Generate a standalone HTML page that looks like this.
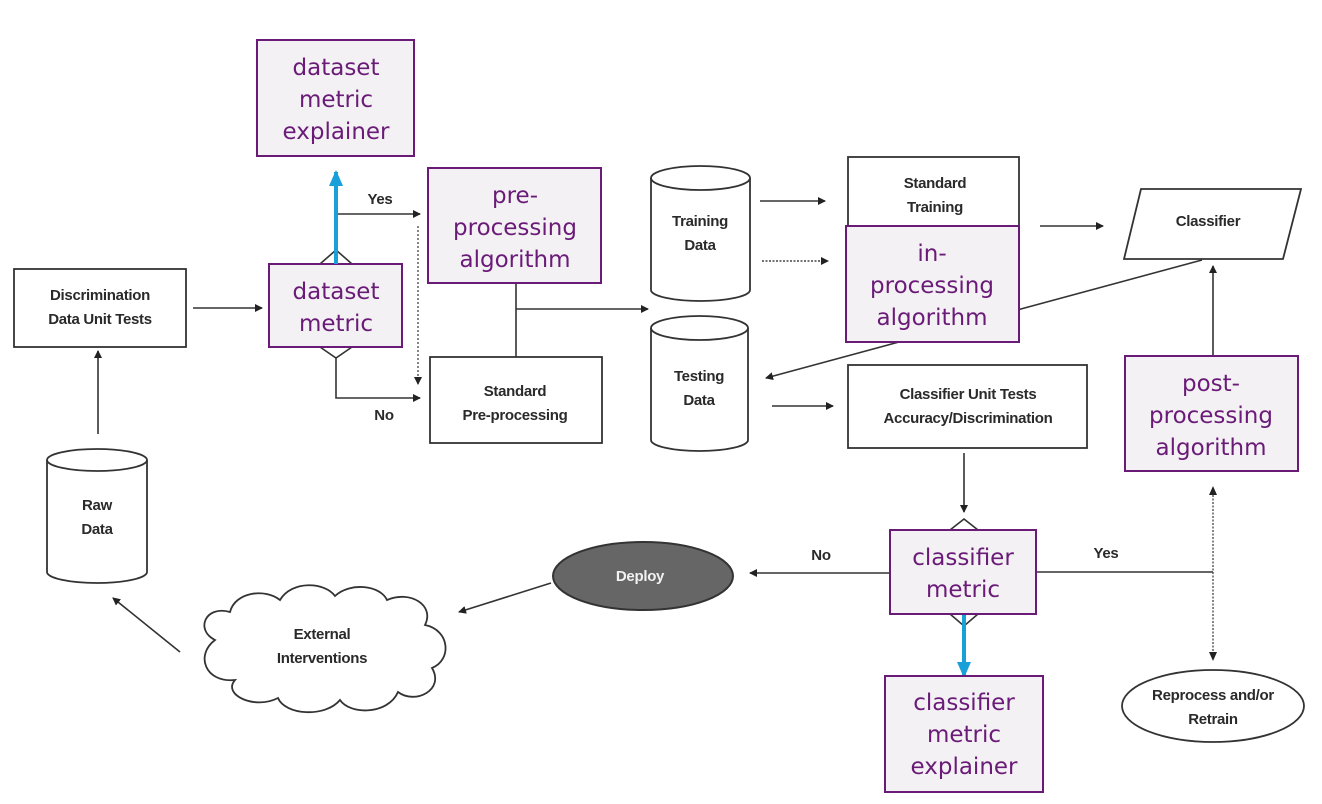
<!DOCTYPE html>
<html><head><meta charset="utf-8"><style>
html,body{margin:0;padding:0;background:#fff;}
svg{display:block;}
.b{font-family:"Liberation Sans",sans-serif;font-size:15px;font-weight:bold;letter-spacing:-0.3px;fill:#2a2a2a;text-anchor:middle;}
.p{font-family:"DejaVu Sans","Liberation Sans",sans-serif;font-size:23px;fill:#6a1b78;text-anchor:middle;}
.pb{fill:#f3f1f3;stroke:#6a1b78;stroke-width:2;}
.s{fill:#fff;stroke:#333;stroke-width:1.8;}
.l{stroke:#333;stroke-width:1.6;fill:none;}
</style></head><body>
<svg width="1322" height="804" viewBox="0 0 1322 804" xmlns="http://www.w3.org/2000/svg">
<defs>
<marker id="a" markerWidth="8" markerHeight="8" refX="7" refY="4" orient="auto" markerUnits="userSpaceOnUse"><path d="M0,0 L8,4 L0,8 z" fill="#222"/></marker>
<marker id="ba" markerWidth="16" markerHeight="14" refX="14" refY="7" orient="auto" markerUnits="userSpaceOnUse"><path d="M0,0 L16,7 L0,14 z" fill="#1aa0d8"/></marker>
</defs>
<rect width="1322" height="804" fill="#fff"/>

<rect class="s" x="14" y="269" width="172" height="78"/>
<text class="b" x="100" y="300">Discrimination</text>
<text class="b" x="100" y="324">Data Unit Tests</text>
<line class="l" x1="193" y1="308" x2="262" y2="308" marker-end="url(#a)"/>

<path class="s" d="M47,460 L47,572 A50,11 0 0 0 147,572 L147,460"/>
<ellipse class="s" cx="97" cy="460" rx="50" ry="11"/>
<text class="b" x="97" y="510">Raw</text>
<text class="b" x="97" y="534">Data</text>
<line class="l" x1="98" y1="434" x2="98" y2="351" marker-end="url(#a)"/>

<path class="l" d="M320,264 L336,250 L352,264"/>
<path class="l" d="M320,347 L336,358 L352,347"/>
<line class="l" x1="336" y1="214" x2="420" y2="214" marker-end="url(#a)"/>
<path class="l" d="M336,358 L336,398 L420,398" marker-end="url(#a)"/>
<line x1="418" y1="226" x2="418" y2="384" stroke="#444" stroke-width="1.3" stroke-dasharray="2,2" marker-end="url(#a)"/>
<text class="b" x="380" y="204">Yes</text>
<text class="b" x="384" y="420">No</text>

<rect class="s" x="430" y="357" width="172" height="86"/>
<text class="b" x="515" y="396">Standard</text>
<text class="b" x="515" y="420">Pre-processing</text>
<line class="l" x1="516" y1="283" x2="516" y2="357"/>
<line class="l" x1="516" y1="309" x2="648" y2="309" marker-end="url(#a)"/>

<path class="s" d="M651,178 L651,290 A49.5,11 0 0 0 750,290 L750,178"/>
<ellipse class="s" cx="700.5" cy="178" rx="49.5" ry="12"/>
<text class="b" x="700" y="226">Training</text>
<text class="b" x="700" y="250">Data</text>
<path class="s" d="M651,328 L651,440 A48.5,11 0 0 0 748,440 L748,328"/>
<ellipse class="s" cx="699.5" cy="328" rx="48.5" ry="12"/>
<text class="b" x="699" y="381">Testing</text>
<text class="b" x="699" y="405">Data</text>

<line class="l" x1="760" y1="201" x2="825" y2="201" marker-end="url(#a)"/>
<line x1="762" y1="261" x2="828" y2="261" stroke="#444" stroke-width="1.4" stroke-dasharray="2,1.5" marker-end="url(#a)"/>

<rect class="s" x="848" y="157" width="171" height="90"/>
<text class="b" x="935" y="188">Standard</text>
<text class="b" x="935" y="212">Training</text>
<line class="l" x1="1040" y1="226" x2="1103" y2="226" marker-end="url(#a)"/>

<polygon class="s" points="1141,189 1301,189 1283,259 1124,259"/>
<text class="b" x="1208" y="226">Classifier</text>
<line class="l" x1="1202" y1="260" x2="766" y2="378" marker-end="url(#a)"/>
<line class="l" x1="1213" y1="355" x2="1213" y2="266" marker-end="url(#a)"/>

<line class="l" x1="772" y1="406" x2="833" y2="406" marker-end="url(#a)"/>
<rect class="s" x="848" y="365" width="239" height="83"/>
<text class="b" x="968" y="399">Classifier Unit Tests</text>
<text class="b" x="968" y="423">Accuracy/Discrimination</text>
<line class="l" x1="964" y1="453" x2="964" y2="512" marker-end="url(#a)"/>
<path class="l" d="M950,530 L964,519 L978,530"/>
<path class="l" d="M950,614 L964,626 L978,614"/>

<line class="l" x1="890" y1="573" x2="750" y2="573" marker-end="url(#a)"/>
<text class="b" x="821" y="560">No</text>
<line class="l" x1="1036" y1="572" x2="1213" y2="572"/>
<text class="b" x="1106" y="558">Yes</text>
<line x1="1213" y1="495" x2="1213" y2="652" stroke="#444" stroke-width="1.3" stroke-dasharray="2,1.5"/>
<path d="M1209,495 L1213,486 L1217,495 z M1209,652 L1213,661 L1217,652 z" fill="#222"/>
<ellipse class="s" cx="1213" cy="706" rx="91" ry="36"/>
<text class="b" x="1213" y="700">Reprocess and/or</text>
<text class="b" x="1213" y="724">Retrain</text>

<ellipse cx="643" cy="576" rx="90" ry="34" fill="#666" stroke="#333" stroke-width="2"/>
<text class="b" x="640" y="581" style="fill:#f2f2f2">Deploy</text>
<line class="l" x1="551" y1="583" x2="459" y2="612" marker-end="url(#a)"/>

<path class="s" d="M215,640 C195,630 205,605 230,612 C235,592 265,588 280,600 C292,580 325,582 335,596 C350,582 380,585 387,600 C410,590 435,605 425,625 C450,630 452,660 432,668 C445,690 415,705 398,692 C388,715 350,715 340,700 C325,718 285,715 278,698 C255,710 222,695 235,680 C205,683 195,655 215,640 Z"/>
<text class="b" x="322" y="639">External</text>
<text class="b" x="322" y="663">Interventions</text>
<line class="l" x1="180" y1="652" x2="113" y2="598" marker-end="url(#a)"/>

<rect class="pb" x="257" y="40" width="157" height="116"/>
<text class="p" x="336" y="75">dataset</text>
<text class="p" x="336" y="107">metric</text>
<text class="p" x="336" y="139">explainer</text>

<rect class="pb" x="428" y="168" width="173" height="115"/>
<text class="p" x="515" y="203">pre-</text>
<text class="p" x="515" y="235">processing</text>
<text class="p" x="515" y="267">algorithm</text>

<rect class="pb" x="269" y="264" width="133" height="83"/>
<text class="p" x="336" y="299">dataset</text>
<text class="p" x="336" y="331">metric</text>

<line x1="336" y1="264" x2="336" y2="172" stroke="#1aa0d8" stroke-width="4" marker-end="url(#ba)"/>

<rect class="pb" x="846" y="226" width="173" height="116"/>
<text class="p" x="932" y="261">in-</text>
<text class="p" x="932" y="293">processing</text>
<text class="p" x="932" y="325">algorithm</text>

<rect class="pb" x="1125" y="356" width="173" height="115"/>
<text class="p" x="1211" y="391">post-</text>
<text class="p" x="1211" y="423">processing</text>
<text class="p" x="1211" y="455">algorithm</text>

<rect class="pb" x="890" y="530" width="146" height="84"/>
<text class="p" x="963" y="565">classifier</text>
<text class="p" x="963" y="597">metric</text>

<line x1="964" y1="615" x2="964" y2="676" stroke="#1aa0d8" stroke-width="4" marker-end="url(#ba)"/>

<rect class="pb" x="885" y="676" width="158" height="116"/>
<text class="p" x="964" y="710">classifier</text>
<text class="p" x="964" y="742">metric</text>
<text class="p" x="964" y="774">explainer</text>
</svg>
</body></html>
